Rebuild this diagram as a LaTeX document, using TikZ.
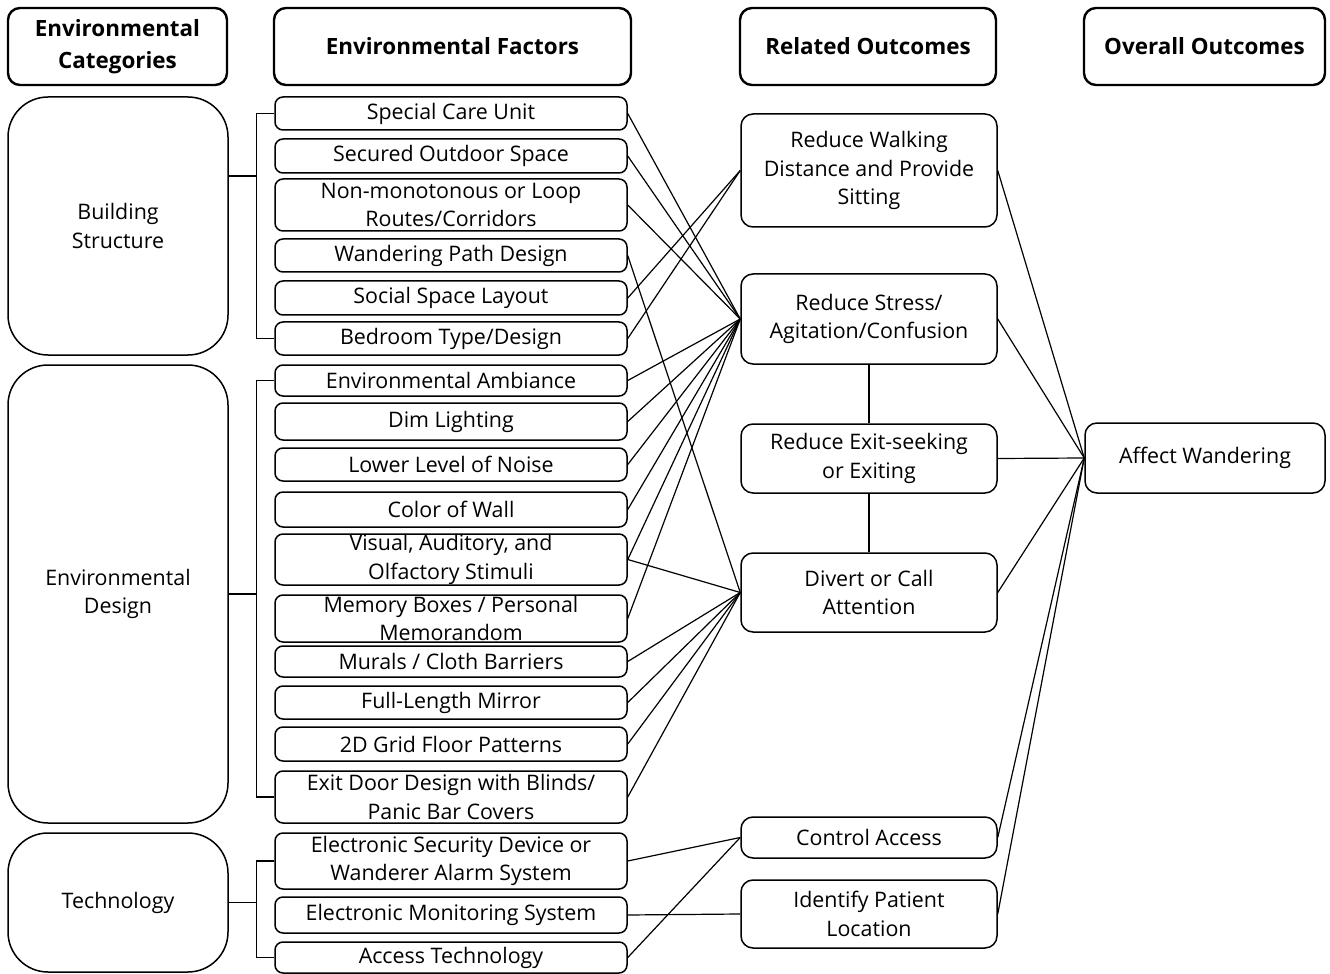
\documentclass[tikz,border=0pt]{standalone}
\usepackage{fontspec}
\setmainfont{Open Sans}
\usetikzlibrary{positioning}
\tikzset{
every node/.style={align=center, inner sep=0pt, font=\fontsize{10.7}{14.3}\selectfont},
header/.style={draw, line width=1.2pt, rounded corners=6pt, minimum height=38.5pt, font=\fontsize{11.2}{16}\selectfont\bfseries}, % column titles
category/.style={draw, line width=0.75pt, rounded corners=20pt, minimum width=110pt},
factor/.style={draw, line width=0.75pt, rounded corners=4pt, minimum width=176pt, inner ysep=-3pt}, % text may touch the frame
outcome/.style={draw, line width=0.75pt, rounded corners=6pt, minimum width=128pt, inner ysep=-3pt},
link/.style={line width=0.6pt},
}

\begin{document}
\begin{tikzpicture}[x=0.5pt, y=-0.5pt]
    \useasboundingbox (0,0) rectangle (1330,974);
    % column titles
    \node[header, minimum width=109.5pt] (hcat) at (117.5,46.5) {Environmental\\Categories};
    \node[header, minimum width=178.5pt] (hfac) at (452.5,46.5) {Environmental Factors};
    \node[header, minimum width=128pt] (hrel) at (868,46.5) {Related Outcomes};
    \node[header, minimum width=120.5pt] (hall) at (1204.5,46.5) {Overall Outcomes};

    % categories
    \node[category, minimum height=129pt] (bs) at (118,226) {Building\\Structure};
    \node[category, minimum height=229pt] (ed) at (118,594) {Environmental\\Design};
    \node[category, minimum height=69.5pt] (te) at (118,902.5) {Technology};

    % factors
    \node[factor, minimum height=16.5pt] (f1) at (451,113.5) {Special Care Unit};
    \node[factor, minimum height=17pt] (f2) at (451,156) {Secured Outdoor Space};
    \node[factor, minimum height=26pt] (f3) at (451,205) {Non-monotonous or Loop\\Routes/Corridors};
    \node[factor, minimum height=16.5pt] (f4) at (451,255.5) {Wandering Path Design};
    \node[factor, minimum height=17pt] (f5) at (451,298) {Social Space Layout};
    \node[factor, minimum height=16.5pt] (f6) at (451,338.5) {Bedroom Type/Design};
    \node[factor, minimum height=15.5pt] (f7) at (451,380.5) {Environmental Ambiance};
    \node[factor, minimum height=18.5pt] (f8) at (451,421.5) {Dim Lighting};
    \node[factor, minimum height=16.5pt] (f9) at (451,464.5) {Lower Level of Noise};
    \node[factor, minimum height=17.5pt] (f10) at (451,509.5) {Color of Wall};
    \node[factor, minimum height=25.5pt] (f11) at (451,559.5) {Visual, Auditory, and\\Olfactory Stimuli};
    \node[factor, minimum height=23.5pt] (f12) at (451,618.5) {Memory Boxes / Personal\\Memorandom};
    \node[factor, minimum height=15.5pt] (f13) at (451,661.5) {Murals / Cloth Barriers};
    \node[factor, minimum height=16.5pt] (f14) at (451,702.5) {Full-Length Mirror};
    \node[factor, minimum height=17pt] (f15) at (451,744) {2D Grid Floor Patterns};
    \node[factor, minimum height=26pt] (f16) at (451,797) {Exit Door Design with Blinds/\\Panic Bar Covers};
    \node[factor, minimum height=28pt] (f17) at (451,861) {Electronic Security Device or\\Wanderer Alarm System};
    \node[factor, minimum height=18pt] (f18) at (451,915) {Electronic Monitoring System};
    \node[factor, minimum height=15.5pt] (f19) at (451,957.5) {Access Technology};

    % related outcomes
    \node[outcome, minimum height=56.5pt] (r1) at (869,170.5) {Reduce Walking\\Distance and Provide\\Sitting};
    \node[outcome, minimum height=45pt] (r2) at (869,319) {Reduce Stress/\\Agitation/Confusion};
    \node[outcome, minimum height=34.5pt] (r3) at (869,458.5) {Reduce Exit-seeking\\or Exiting};
    \node[outcome, minimum height=39.5pt] (r4) at (869,592.5) {Divert or Call\\Attention};
    \node[outcome, minimum height=20.5pt] (r5) at (869,837.5) {Control Access};
    \node[outcome, minimum height=34pt] (r6) at (869,914) {Identify Patient\\Location};

    % overall outcome
    \node[outcome, minimum width=120pt, minimum height=35pt] (aw) at (1205,458) {Affect Wandering};

    % brackets from categories to factors
    \draw[link] (bs.east) ++(0,-50) -- ++(28,0) coordinate (bsj);
    \draw[link] (f1.west) -| (bsj) |- (f6.west);
    \draw[link] (ed.east) -- ++(28,0) coordinate (edj);
    \draw[link] (f7.west) -| (edj) |- (f16.west);
    \draw[link] (te.east) -- ++(28,0) coordinate (tej);
    \draw[link] (f17.west) -| (tej) |- (f19.west);

    % factors to related outcomes
    \draw[link]
    (f5.east) edge (r1.west)
    (f6.east) edge (r1.west)
    (f1.east) edge (r2.west)
    (f2.east) edge (r2.west)
    (f3.east) edge (r2.west)
    (f7.east) edge (r2.west)
    (f8.east) edge (r2.west)
    (f9.east) edge (r2.west)
    (f10.east) edge (r2.west)
    (f11.east) edge (r2.west)
    (f12.east) edge (r2.west)
    (f4.east) edge (r4.west)
    (f11.east) edge (r4.west)
    (f13.east) edge (r4.west)
    (f14.east) edge (r4.west)
    (f15.east) edge (r4.west)
    (f16.east) edge (r4.west)
    (f17.east) edge (r5.west)
    (f19.east) edge (r5.west)
    (f18.east) edge (r6.west);

    % related outcomes among themselves and to the overall outcome
    \draw[link] (r2) -- (r3) -- (r4);
    \foreach \r in {r1,r2,r3,r4,r5,r6}
        \draw[link] (\r.east) -- (aw.west);
\end{tikzpicture}
\end{document}
